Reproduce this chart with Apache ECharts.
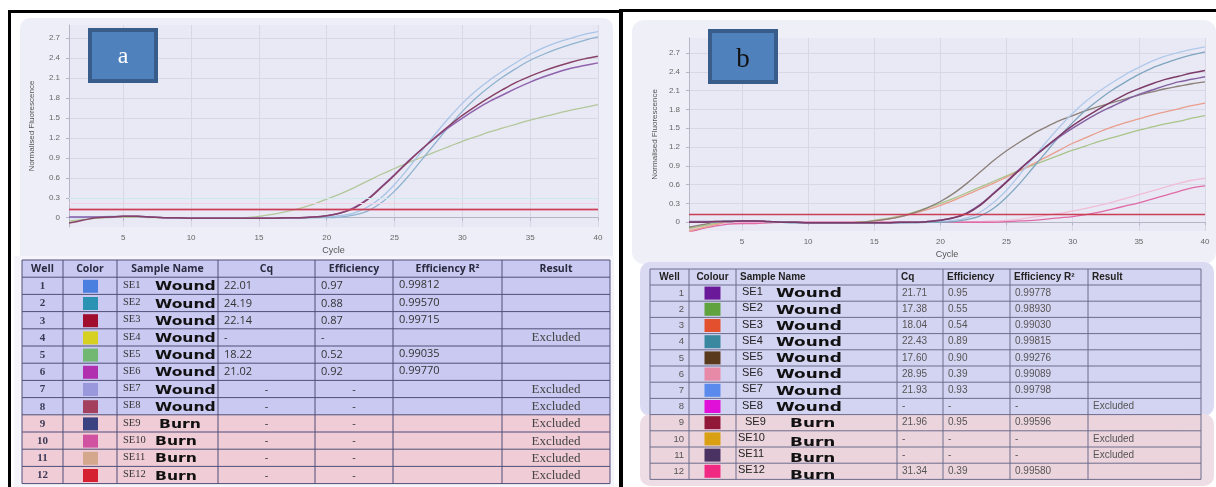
<!DOCTYPE html>
<html><head><meta charset="utf-8">
<script src="https://cdn.jsdelivr.net/npm/echarts@6/dist/echarts.min.js"></script>
<style>html,body{margin:0;padding:0;background:#fff}#c{width:1216px;height:487px}</style>
</head><body><div id="c"></div>
<script>
// ---------- DATA ----------
const cycles = [1,2,3,4,5,6,7,8,9,10,11,12,13,14,15,16,17,18,19,20,21,22,23,24,25,26,27,28,29,30,31,32,33,34,35,36,37,38,39,40];
const xTicks = [5,10,15,20,25,30,35,40];
const yTicks = [0,0.3,0.6,0.9,1.2,1.5,1.8,2.1,2.4,2.7];

// panel a curves
const a_blue1  = [0.00,0.00,0.01,0.01,0.02,0.02,0.01,0.00,-0.01,-0.01,-0.01,-0.01,-0.01,-0.01,-0.01,-0.01,-0.01,0.00,0.00,0.01,0.03,0.07,0.16,0.30,0.50,0.74,1.00,1.26,1.50,1.72,1.91,2.07,2.21,2.34,2.46,2.56,2.64,2.70,2.76,2.80];
const a_blue2  = [0.01,0.01,0.01,0.02,0.02,0.02,0.01,0.00,-0.01,-0.01,-0.01,-0.01,-0.01,-0.01,-0.01,-0.01,-0.01,-0.01,0.00,0.00,0.01,0.04,0.10,0.22,0.40,0.62,0.87,1.12,1.37,1.60,1.80,1.97,2.12,2.25,2.37,2.46,2.54,2.61,2.67,2.72];
const a_maroon = [-0.08,-0.04,0.00,0.01,0.02,0.02,0.01,0.00,0.00,-0.01,-0.01,-0.01,-0.01,-0.01,-0.01,-0.01,0.00,0.00,0.01,0.03,0.07,0.14,0.27,0.45,0.64,0.84,1.03,1.21,1.38,1.54,1.68,1.81,1.93,2.04,2.13,2.21,2.28,2.34,2.39,2.43];
const a_purple = [0.01,0.01,0.01,0.01,0.02,0.02,0.01,0.00,0.00,-0.01,-0.01,-0.01,-0.01,-0.01,-0.01,-0.01,0.00,0.00,0.01,0.03,0.07,0.15,0.28,0.46,0.65,0.85,1.03,1.20,1.36,1.50,1.63,1.75,1.85,1.95,2.04,2.12,2.19,2.25,2.29,2.33];
const a_green  = [-0.05,-0.03,-0.01,0.00,0.01,0.01,0.00,0.00,-0.01,-0.01,-0.01,-0.01,-0.01,0.00,0.02,0.05,0.09,0.14,0.20,0.28,0.36,0.45,0.55,0.65,0.74,0.83,0.91,0.99,1.07,1.15,1.22,1.29,1.35,1.41,1.47,1.52,1.57,1.62,1.66,1.70];
const a_thresholds = [0.29,0.22,0.13,0.12];

// panel b curves
const b_blue1  = [0.00,0.00,0.01,0.01,0.02,0.02,0.01,0.00,-0.01,-0.01,-0.01,-0.01,-0.01,-0.01,-0.01,-0.01,-0.01,0.00,0.00,0.01,0.03,0.07,0.16,0.31,0.51,0.76,1.02,1.28,1.52,1.74,1.93,2.09,2.23,2.36,2.47,2.57,2.65,2.71,2.76,2.80];
const b_teal   = [0.01,0.01,0.01,0.02,0.02,0.02,0.01,0.00,-0.01,-0.01,-0.01,-0.01,-0.01,-0.01,-0.01,-0.01,-0.01,-0.01,0.00,0.00,0.01,0.04,0.10,0.22,0.40,0.62,0.87,1.12,1.37,1.59,1.79,1.96,2.11,2.24,2.36,2.46,2.54,2.61,2.67,2.72];
const b_maroon = [0.00,0.00,0.01,0.01,0.02,0.02,0.01,0.00,0.00,-0.01,-0.01,-0.01,-0.01,-0.01,-0.01,-0.01,0.00,0.00,0.01,0.03,0.07,0.14,0.27,0.45,0.64,0.84,1.03,1.21,1.38,1.54,1.68,1.81,1.93,2.04,2.13,2.21,2.28,2.33,2.38,2.42];
const b_purple = [0.01,0.01,0.01,0.01,0.02,0.02,0.01,0.00,0.00,-0.01,-0.01,-0.01,-0.01,-0.01,-0.01,-0.01,0.00,0.00,0.01,0.03,0.07,0.15,0.28,0.46,0.65,0.85,1.03,1.20,1.36,1.50,1.63,1.75,1.85,1.95,2.04,2.11,2.18,2.24,2.28,2.32];
const b_brown  = [-0.08,-0.04,0.00,0.02,0.02,0.02,0.01,0.00,0.00,-0.01,-0.01,-0.01,-0.01,0.00,0.02,0.05,0.09,0.15,0.23,0.33,0.46,0.62,0.80,0.98,1.14,1.28,1.41,1.52,1.62,1.70,1.78,1.85,1.91,1.97,2.03,2.08,2.13,2.17,2.21,2.24];
const b_orange = [-0.14,-0.09,-0.04,0.01,0.02,0.02,0.01,0.00,0.00,-0.01,-0.01,-0.01,-0.01,0.00,0.02,0.05,0.09,0.14,0.20,0.27,0.35,0.44,0.53,0.62,0.72,0.82,0.93,1.04,1.15,1.26,1.35,1.44,1.52,1.59,1.65,1.71,1.76,1.81,1.86,1.90];
const b_green  = [-0.10,-0.06,-0.02,0.01,0.02,0.02,0.01,0.00,0.00,-0.01,-0.01,-0.01,-0.01,0.00,0.03,0.06,0.10,0.16,0.23,0.30,0.38,0.47,0.56,0.65,0.74,0.83,0.91,0.99,1.07,1.15,1.22,1.29,1.35,1.41,1.47,1.52,1.57,1.61,1.66,1.70];
const b_lpink  = [-0.12,-0.07,-0.03,-0.01,0.00,0.00,0.00,0.00,0.00,0.00,0.00,0.00,0.00,0.00,0.00,0.00,0.00,0.00,0.00,0.00,0.00,0.01,0.01,0.02,0.03,0.05,0.08,0.11,0.14,0.18,0.22,0.27,0.32,0.38,0.44,0.50,0.56,0.62,0.67,0.70];
const b_pink   = [-0.16,-0.10,-0.06,-0.03,-0.02,-0.02,-0.01,0.00,0.00,0.00,0.00,0.00,0.00,0.00,0.00,0.00,0.00,0.00,0.00,0.00,0.00,0.00,0.00,0.00,0.01,0.02,0.03,0.05,0.07,0.09,0.12,0.16,0.21,0.26,0.31,0.37,0.43,0.49,0.55,0.58];
const b_thresholds = [0.12];

// tables
const headersA = ['Well','Color','Sample Name','Cq','Efficiency','Efficiency R\u00B2','Result'];
const wellsA   = ['1','2','3','4','5','6','7','8','9','10','11','12'];
const swatchA  = ['#4a7fe0','#2a93b3','#a0102e','#d6d020','#72b872','#b030b0','#9a98dc','#a2405e','#3a4282','#d052a0','#d4a88c','#d42030'];
const sampleIdA   = ['SE1','SE2','SE3','SE4','SE5','SE6','SE7','SE8','SE9','SE10','SE11','SE12'];
const sampleTypeA = ['Wound','Wound','Wound','Wound','Wound','Wound','Wound','Wound','Burn','Burn','Burn','Burn'];
const cqA     = ['22.01','24.19','22.14','-','18.22','21.02','-','-','-','-','-','-'];
const effA    = ['0.97','0.88','0.87','-','0.52','0.92','-','-','-','-','-','-'];
const r2A     = ['0.99812','0.99570','0.99715','','0.99035','0.99770','','','','','',''];
const resultA = ['','','','Excluded','','','Excluded','Excluded','Excluded','Excluded','Excluded','Excluded'];

const headersB = ['Well','Colour','Sample Name','Cq','Efficiency','Efficiency R\u00B2','Result'];
const wellsB   = ['1','2','3','4','5','6','7','8','9','10','11','12'];
const swatchB  = ['#6a1a98','#5fa23e','#e2502e','#3a88a0','#5a3a1c','#e68aa8','#5a8aec','#e010d8','#92183a','#d8a012','#4a3262','#f02a82'];
const sampleIdB   = ['SE1','SE2','SE3','SE4','SE5','SE6','SE7','SE8','SE9','SE10','SE11','SE12'];
const sampleTypeB = ['Wound','Wound','Wound','Wound','Wound','Wound','Wound','Wound','Burn','Burn','Burn','Burn'];
const cqB     = ['21.71','17.38','18.04','22.43','17.60','28.95','21.93','-','21.96','-','-','31.34'];
const effB    = ['0.95','0.55','0.54','0.89','0.90','0.39','0.93','-','0.95','-','-','0.39'];
const r2B     = ['0.99778','0.98930','0.99030','0.99815','0.99276','0.99089','0.99798','-','0.99596','-','-','0.99580'];
const resultB = ['','','','','','','','Excluded','','Excluded','Excluded',''];

// ---------- CHART ----------
const chart = echarts.init(document.getElementById('c'), null, {renderer:'canvas'});
const pair = arr => cycles.map((c,i)=>[c, arr[i]]);

function mkLine(name, arr, color, gi, width){
  return {name, type:'line', xAxisIndex:gi, yAxisIndex:gi, data:pair(arr), smooth:0.35, showSymbol:false, symbol:'none',
    lineStyle:{color, width: width||1.3}, itemStyle:{color}, silent:true, z:3};
}
const curvesA = [
  mkLine('a1', a_green, '#b2c79a', 0),
  mkLine('a2', a_blue1, '#a9c4e6', 0),
  mkLine('a3', a_blue2, '#8fb3cf', 0),
  mkLine('a4', a_purple, '#8f63ad', 0, 1.5),
  mkLine('a5', a_maroon, '#874067', 0, 1.5),
];
const curvesB = [
  mkLine('b1', b_lpink, '#f0bdd6', 1),
  mkLine('b2', b_pink, '#e06aa8', 1),
  mkLine('b3', b_green, '#a9c489', 1),
  mkLine('b4', b_orange, '#e89e8c', 1),
  mkLine('b5', b_brown, '#8b7f78', 1),
  mkLine('b6', b_blue1, '#b0c9ea', 1),
  mkLine('b7', b_teal, '#7fa5bf', 1),
  mkLine('b8', b_purple, '#8462a2', 1, 1.5),
  mkLine('b9', b_maroon, '#7c3a66', 1, 1.5),
];
const thrColorsA = ['#cde9ea','#f1d3e4','#e37d98','#cc3e55'];
curvesA[0].markLine = {silent:true, symbol:'none', label:{show:false}, animation:false,
  data: a_thresholds.map((v,i)=>({yAxis:v, lineStyle:{color:thrColorsA[i], width:i>=2?1.4:1, type:'solid'}}))};
curvesB[0].markLine = {silent:true, symbol:'none', label:{show:false}, animation:false,
  data: b_thresholds.map(v=>({yAxis:v, lineStyle:{color:'#cc3e55', width:1.4, type:'solid'}}))};

function xAxisCfg(gi){
  return {type:'value', gridIndex:gi, min:1, max:40, name:'Cycle', nameLocation:'middle', nameGap:19,
    nameTextStyle:{fontSize:9, color:'#555', fontFamily:'Liberation Sans'},
    axisLine:{show:true, lineStyle:{color:'#b5b5c6'}},
    axisTick:{show:true, customValues:xTicks, length:3, lineStyle:{color:'#b5b5c6'}},
    axisLabel:{customValues:xTicks, fontSize:8, color:'#666', margin:7, fontFamily:'Liberation Sans'},
    splitLine:{show:true, lineStyle:{color:'#d7d7e6', width:1}}};
}
function yAxisCfg(gi, max, gap){
  return {type:'value', gridIndex:gi, min:-0.14, max:max, name:'Normalised Fluorescence', nameLocation:'middle', nameGap:gap,
    nameTextStyle:{fontSize:8, color:'#555', fontFamily:'Liberation Sans'},
    axisLine:{show:true, lineStyle:{color:'#b5b5c6'}},
    axisTick:{show:true, customValues:yTicks, length:3, lineStyle:{color:'#b5b5c6'}},
    axisLabel:{customValues:yTicks, fontSize:8, color:'#666', margin:9, fontFamily:'Liberation Sans'},
    splitLine:{show:true, lineStyle:{color:'#d7d7e6', width:1}}};
}

// ---------- GRAPHICS (frames, labels, tables) ----------
const G = [];
function rect(x,y,w,h,fill,z,r,stroke,lw){ G.push({type:'rect', z:z||0, silent:true, shape:{x,y,width:w,height:h,r:r||0}, style:{fill:fill||'none', stroke:stroke||null, lineWidth:lw||0}}); }
function line(x1,y1,x2,y2,color,lw,z){ G.push({type:'line', z:z||6, silent:true, shape:{x1,y1,x2,y2}, style:{stroke:color, lineWidth:lw||1}}); }
function text(t,x,y,o){ o=o||{}; G.push({type:'text', z:o.z||7, silent:true, x, y, scaleX:o.sx||1,
  style:{text:t, x:0, y:0, fill:o.fill||'#222', fontSize:o.size||11, fontFamily:o.family||'Liberation Sans', fontWeight:o.weight||'normal', align:o.align||'left', verticalAlign:'middle'}}); }

// panel backgrounds
rect(20,18,593,238,'#eeeef8',-10,[10,10,0,0]);
rect(14,256,600,231,'#f5f5fb',-10);
rect(632,20,584,244,'#efeff8',-10,12);
rect(640,262,574,154,'#dadaf3',-9,10);
rect(640,414,574,72,'#efdde5',-9,10);
// black frame
rect(8,10,613,3,'#000',20);
rect(8,10,3,477,'#000',20);
rect(619,9,4,478,'#000',20);
rect(619,9,597,3,'#000',20);

// label boxes
rect(90,30,66,51,'#4f81bd',15,0,'#385d8a',4);
text('a',123,57,{align:'center', size:24, family:'Liberation Serif', fill:'#fff', z:16});
rect(710,31,66,51,'#4f81bd',15,0,'#385d8a',4);
text('b',743,60,{align:'center', size:27, family:'Liberation Serif', fill:'#111', z:16});

// table A
(function(){
  const E = [22,63,117,218,315,393,502,610];
  const top = 260, rh = 17.2, n = wellsA.length;
  for(let r=0;r<=n;r++){
    const y = top + r*rh;
    rect(E[0], y, E[7]-E[0], rh, r<=8 ? '#c9c9f1' : '#f0ccd6', 1);
  }
  for(let r=0;r<=n+1;r++) line(E[0], top+r*rh, E[7], top+r*rh, '#4e4e78', 1);
  E.forEach(x=>line(x, top, x, top+(n+1)*rh, '#4e4e78', 1));
  const cy0 = top + rh/2;
  headersA.forEach((h,i)=>text(h,(E[i]+E[i+1])/2,cy0,{align:'center', size:10.5, weight:'bold', family:'Open Sans', fill:'#2a2a40'}));
  const leftDash = [3];
  for(let r=0;r<n;r++){
    const cy = top + (r+1)*rh + rh/2 + 0.5;
    text(wellsA[r],(E[0]+E[1])/2,cy,{align:'center', size:11, weight:'bold', family:'Liberation Serif', fill:'#3a3a55'});
    rect((E[1]+E[2])/2-7, cy-6.5, 15, 13, swatchA[r], 5);
    text(sampleIdA[r], E[2]+6, cy-1, {size:10.5, family:'Liberation Serif', fill:'#333'});
    const isBurn = sampleTypeA[r]==='Burn';
    text(sampleTypeA[r], E[2]+(isBurn? (sampleIdA[r].length>3?38:42) : 38), cy+1, {size:12, weight:'bold', family:'DejaVu Sans', fill:'#111', sx:1.3});
    const center = leftDash.indexOf(r)<0 && cqA[r]==='-';
    text(cqA[r], center?(E[3]+E[4])/2:E[3]+6, cy, {align:center?'center':'left', size:11, family:'Open Sans', fill:'#333'});
    text(effA[r], center?(E[4]+E[5])/2:E[4]+6, cy, {align:center?'center':'left', size:11, family:'Open Sans', fill:'#333'});
    text(r2A[r], E[5]+6, cy-1, {size:11, family:'Open Sans', fill:'#333'});
    text(resultA[r], (E[6]+E[7])/2, cy, {align:'center', size:13, family:'Liberation Serif', fill:'#444'});
  }
})();

// table B
(function(){
  const E = [650,689,736,897,943,1010,1088,1201];
  const top = 269, hh = 16, rh = 16.2, n = wellsB.length;
  rect(E[0], top, E[7]-E[0], hh, '#d3d3f2', 1);
  for(let r=0;r<n;r++) rect(E[0], top+hh+r*rh, E[7]-E[0], rh, r<8 ? '#d3d3f2' : '#ecd4dd', 1);
  line(E[0], top, E[7], top, '#6c6c8c', 1);
  for(let r=0;r<=n;r++) line(E[0], top+hh+r*rh, E[7], top+hh+r*rh, '#6c6c8c', 1);
  const bottom = top+hh+n*rh;
  E.forEach(x=>line(x, top, x, bottom, '#6c6c8c', 1));
  const cy0 = top + hh/2;
  headersB.forEach((h,i)=>{
    if(i<=1) text(h,(E[i]+E[i+1])/2,cy0,{align:'center', size:10, weight:'bold', fill:'#222'});
    else text(h,E[i]+4,cy0,{size:10, weight:'bold', fill:'#222'});
  });
  for(let r=0;r<n;r++){
    const cy = top + hh + r*rh + rh/2;
    text(wellsB[r], E[1]-5, cy, {align:'right', size:9.5, fill:'#555'});
    rect((E[1]+E[2])/2-8, cy-6.5, 16, 13, swatchB[r], 5);
    const isBurn = sampleTypeB[r]==='Burn';
    const low = isBurn && sampleIdB[r].length>3;
    text(sampleIdB[r], E[2]+(low?2:(isBurn?9:6)), cy-1, {size:11, fill:'#222'});
    text(sampleTypeB[r], E[2]+(isBurn?54:40), cy+(low?4:1), {size:13, weight:'bold', family:'DejaVu Sans', fill:'#111', sx:1.3});
    text(cqB[r], E[3]+5, cy, {size:10, fill:'#555'});
    text(effB[r], E[4]+5, cy, {size:10, fill:'#555'});
    text(r2B[r], E[5]+5, cy, {size:10, fill:'#555'});
    text(resultB[r], E[6]+5, cy, {size:10, fill:'#555'});
  }
})();

const option = {
  animation:false,
  backgroundColor:'#ffffff',
  grid:[
    {left:69, top:25, width:529, height:202, show:true, backgroundColor:'#e9e9f5', borderWidth:0, containLabel:false},
    {left:689, top:38, width:516, height:193, show:true, backgroundColor:'#e9e9f5', borderWidth:0, containLabel:false}
  ],
  xAxis:[xAxisCfg(0), xAxisCfg(1)],
  yAxis:[yAxisCfg(0, 2.9, 33), yAxisCfg(1, 2.94, 30)],
  series:[...curvesA, ...curvesB],
  graphic:{elements:G}
};
chart.setOption(option);
</script></body></html>
